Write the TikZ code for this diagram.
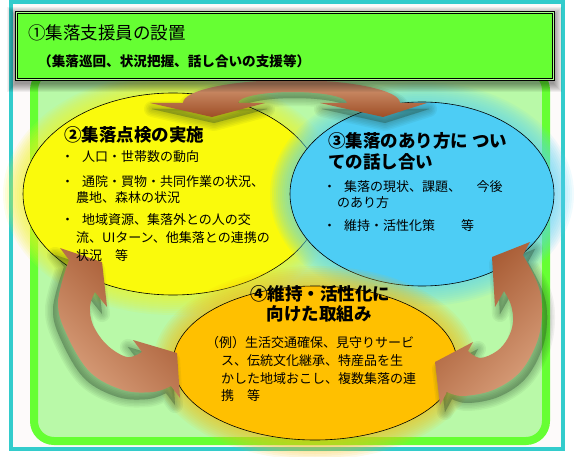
\documentclass[tikz,border=0pt]{standalone}
\usepackage{fontspec}
\setmainfont{Noto Sans CJK JP}

% colours
\definecolor{frameteal}{RGB}{51,204,204}
\definecolor{pagewhite}{RGB}{253,250,250}
\definecolor{limegreen}{RGB}{102,255,51}
\definecolor{palelime}{RGB}{170,255,140}
\definecolor{palegreen}{RGB}{185,249,168}
\definecolor{ovalyellow}{RGB}{250,250,12}
\definecolor{ovalblue}{RGB}{77,205,245}
\definecolor{ovalorange}{RGB}{255,192,0}
\definecolor{glowyellow}{RGB}{245,245,30}
\definecolor{glowblue}{RGB}{90,212,245}
\definecolor{gloworange}{RGB}{245,190,20}
\definecolor{arrowdark}{RGB}{158,78,38}
\definecolor{arrowlight}{RGB}{216,158,122}
\definecolor{arrowshadow}{RGB}{36,64,40}

\begin{document}
\begin{tikzpicture}[x=1pt, y=-1pt,
    oval/.style={draw=black, line width=0.6pt},
    glowlayer/.style={opacity=0.09},
    shadowlayer/.style={arrowshadow, opacity=0.06, line join=round},
    headtitle/.style={font=\fontsize{17.5}{20}\selectfont, anchor=base west, inner sep=0},
    headsub/.style={font=\fontsize{13.6}{16}\selectfont\bfseries, anchor=base west, inner sep=0},
    ovaltitle/.style={font=\fontsize{17.5}{20}\selectfont\bfseries, anchor=base west, inner sep=0},
    bodyline/.style={font=\fontsize{13}{16}\selectfont, anchor=base west, inner sep=0},
  ]
  \useasboundingbox (0,0) rectangle (575,457);

  % outer frame and green panel
  \draw[frameteal, line width=4pt, fill=pagewhite] (11,2) rectangle (563,449);
  \draw[limegreen, line width=8pt, fill=palegreen, rounded corners=20pt] (34,70) rectangle (546,441);

  % ovals with a soft glow
  \foreach \k in {1,...,10}
    \fill[glowyellow, glowlayer] (173,194) ellipse ({150+2*\k} and {101+2*\k});
  \draw[oval, fill=ovalyellow] (173,194) ellipse (150 and 101);
  \foreach \k in {1,...,10}
    \fill[glowblue, glowlayer] (422,194) ellipse ({132+2*\k} and {92+2*\k});
  \draw[oval, fill=ovalblue] (422,194) ellipse (132 and 92);
  \foreach \k in {1,...,10}
    \fill[gloworange, glowlayer] (315,363) ellipse ({142+2*\k} and {77+2*\k});
  \draw[oval, fill=ovalorange] (315,363) ellipse (142 and 77);

  % curved arrows
  \def\archpath{(150,103) -- (212,117) -- (265,103) -- (238,103)
    arc[start angle=180, end angle=360, x radius=54.5, y radius=11]
    -- (320,103) -- (383,117) -- (427,103) -- (400,103)
    arc[start angle=0, end angle=-180, x radius=108.5, y radius=23] -- cycle}
  \def\leftpath{(60,248) -- (102,262) -- (107,307) -- (95,292)
    -- plot[smooth, tension=0.6] coordinates {(95,292) (90,306) (93,325) (107,345) (127,357) (142,352)}
    -- (133,340) -- (177,353) -- (180,398) -- (171,386)
    -- plot[smooth, tension=0.6] coordinates {(171,386) (153,392) (123,390) (90,372) (67,335) (58,302) (69,260)}
    -- cycle}
  \def\rightpath{(530,242) -- (492,257) -- (495,307) -- (504,291)
    -- plot[smooth, tension=0.6] coordinates {(504,291) (511,305) (513,322) (508,338) (497,351) (480,358) (468,351)}
    -- (473,342) -- (435,362) -- (440,405) -- (447,392)
    -- plot[smooth, tension=0.6] coordinates {(447,392) (463,396) (493,390) (520,372) (537,342) (542,312) (538,285) (523,255)}
    -- cycle}

  % blurred shadows under the arrows
  \foreach \w in {1,4,...,16} {
    \filldraw[shadowlayer, line width=\w pt, shift={(2,6)}] \archpath;
    \filldraw[shadowlayer, line width=\w pt, shift={(-5,7)}] \leftpath;
    \filldraw[shadowlayer, line width=\w pt, shift={(5,7)}] \rightpath;
  }
  \shade[top color=arrowlight, bottom color=arrowdark] \archpath;
  \shade[top color=arrowlight, bottom color=arrowdark, shading angle=135] \leftpath;
  \shade[top color=arrowlight, bottom color=arrowdark, shading angle=225] \rightpath;

  % (2) oval text
  \node (t2) [ovaltitle] at (64,142) {②集落点検の実施};
  \node (b2a) [bodyline] at (61,162) {・\hspace{0.6em}人口・世帯数の動向};
  \node (b2b) [bodyline] at (61,186) {・\hspace{0.6em}通院・買物・共同作業の状況、};
  \node (b2c) [bodyline] at (76,202) {農地、森林の状況};
  \node (b2d) [bodyline] at (61,224) {・\hspace{0.6em}地域資源、集落外との人の交};
  \node (b2e) [bodyline] at (76,242) {流、UIターン、他集落との連携の};
  \node (b2f) [bodyline] at (76,260) {状況　等};

  % (3) oval text
  \node (t3a) [ovaltitle] at (328,147.5) {③集落のあり方に つい};
  \node (t3b) [ovaltitle] at (328,168.5) {ての話し合い};
  \node (b3a) [bodyline] at (323,191) {・\hspace{0.6em}集落の現状、課題、\hspace{1.2em}今後};
  \node (b3b) [bodyline] at (337,207) {のあり方};
  \node (b3c) [bodyline] at (323,230) {・\hspace{0.6em}維持・活性化策\hspace{2em}等};

  % (4) oval text
  \node (t4a) [ovaltitle, anchor=base] at (320,300) {④維持・活性化に};
  \node (t4b) [ovaltitle, anchor=base] at (319,320) {向けた取組み};
  \node (b4a) [bodyline] at (206,347) {（例）生活交通確保、見守りサービ};
  \node (b4b) [bodyline] at (221,365) {ス、伝統文化継承、特産品を生};
  \node (b4c) [bodyline] at (221,383) {かした地域おこし、複数集落の連};
  \node (b4d) [bodyline] at (221,400) {携　等};

  % header box with its shadow
  \foreach \k in {1,...,9}
    \fill[black, opacity=0.05] (16-\k,16-\k) rectangle (553+\k,83+\k);
  \node (hdr) [draw=black, line width=0.7pt, double=palelime, double distance=1.4pt,
        fill=limegreen, minimum width=537pt, minimum height=67pt,
        inner sep=0, anchor=north west] at (16,12) {};
  \node (hdrtitle) [headtitle] at (28,40) {①集落支援員の設置};
  \node (hdrsub) [headsub] at (38,67) {（集落巡回、状況把握、話し合いの支援等）};
\end{tikzpicture}
\end{document}
